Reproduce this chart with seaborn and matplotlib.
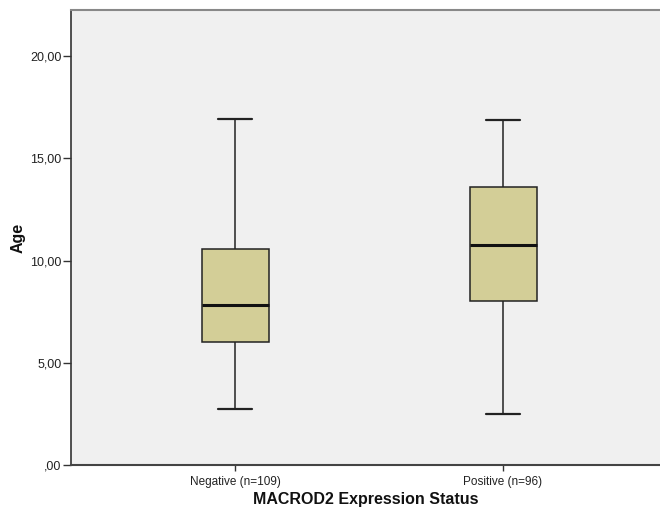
import matplotlib
matplotlib.use("Agg")
import matplotlib.pyplot as plt
import numpy as np
import pandas as pd
import seaborn as sns

# five-number summaries (min, Q1, median, Q3, max)
groups = ["Negative (n=109)", "Positive (n=96)"]
neg_age = [2.76, 6.02, 7.84, 10.57, 16.93]
pos_age = [2.50, 8.01, 10.78, 13.62, 16.86]
y_ticks = [0, 5, 10, 15, 20]
y_tick_labels = [",00", "5,00", "10,00", "15,00", "20,00"]

df = pd.DataFrame({
    "group": [groups[0]] * len(neg_age) + [groups[1]] * len(pos_age),
    "age": neg_age + pos_age,
})

sns.set_style("white")
plt.rcParams["font.family"] = ["Liberation Sans", "DejaVu Sans"]

fig = plt.figure(figsize=(6.6, 5.16), dpi=100)
ax = fig.add_axes([71 / 660, 1 - 465 / 516, 1 - 71 / 660, (465 - 10) / 516])
ax.set_facecolor("#f0f0f0")

sns.boxplot(data=df, x="group", y="age", order=groups, ax=ax,
            width=0.25, whis=(0, 100), color="#d3ce97", saturation=1,
            linecolor="#222222", linewidth=1.1, showfliers=False,
            medianprops=dict(color="#111111", linewidth=2.2),
            capprops=dict(color="#222222", linewidth=1.6))

ax.set_xlim(-0.613, 1.586)
ax.set_ylim(0, 22.26)
ax.set_yticks(y_ticks)
ax.set_yticklabels(y_tick_labels)
ax.tick_params(axis="y", direction="out", length=6, width=1,
               color="#333333", labelsize=9, labelcolor="#222222", pad=1,
               left=True)
ax.tick_params(axis="x", direction="out", length=4, width=1,
               color="#333333", labelsize=8.5, labelcolor="#222222", pad=4,
               bottom=True)

ax.spines["right"].set_visible(False)
ax.spines["top"].set_color("#888888")
ax.spines["top"].set_linewidth(1.5)
ax.spines["left"].set_color("#333333")
ax.spines["left"].set_linewidth(1.2)
ax.spines["bottom"].set_color("#444444")
ax.spines["bottom"].set_linewidth(1.5)

ax.set_xlabel("MACROD2 Expression Status", fontsize=11.5, fontweight="bold",
              color="#111111", labelpad=3)
ax.set_ylabel("Age", fontsize=11.5, fontweight="bold", color="#111111",
              labelpad=3)

fig.savefig("out.png", dpi=100)
